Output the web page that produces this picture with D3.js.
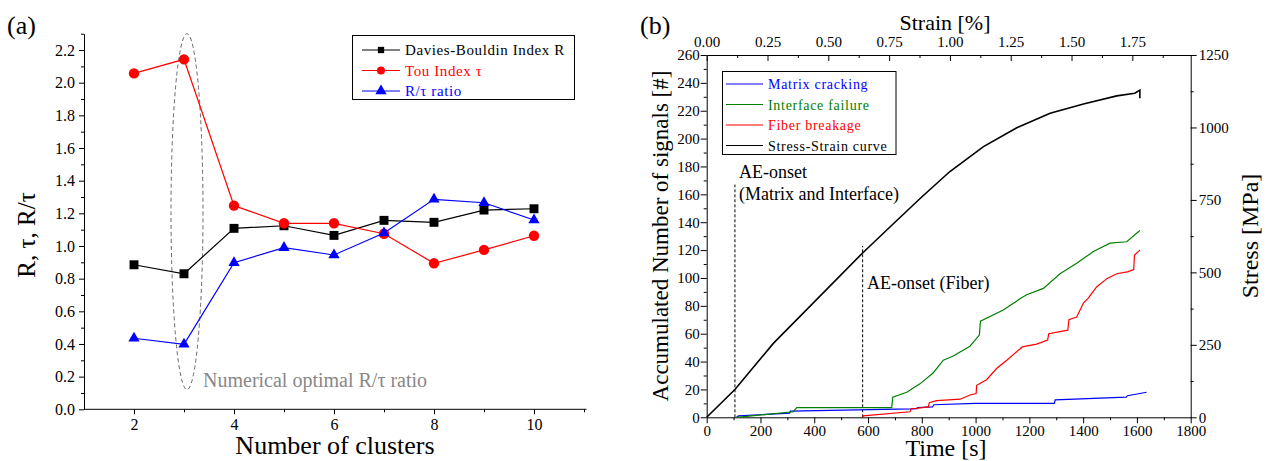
<html>
<head>
<script src="https://d3js.org/d3.v7.min.js"></script>
<style>
  body { margin: 0; background: #fff; }
  svg text { font-family: "Liberation Serif", "Times New Roman", serif; }
  .axis .domain, .axis line { stroke: #000; }
</style>
</head>
<body>
<svg id="all" width="1274" height="461"></svg>
<script>
// ---------- data: panel (a) ----------
const clusters = [2, 3, 4, 5, 6, 7, 8, 9, 10];
const daviesR = [0.885, 0.83, 1.108, 1.124, 1.065, 1.157, 1.145, 1.22, 1.228];
const touTau  = [2.057, 2.143, 1.247, 1.139, 1.139, 1.075, 0.894, 0.976, 1.063];
const ratio   = [0.435, 0.398, 0.898, 0.99, 0.945, 1.08, 1.286, 1.265, 1.159];
const aYTicks = [0, 0.2, 0.4, 0.6, 0.8, 1.0, 1.2, 1.4, 1.6, 1.8, 2.0, 2.2];
const aXTicks = [2, 4, 6, 8, 10];

// ---------- data: panel (b) ----------  [time s, accumulated count]
const matrixCracking = [[111,0],[118,1],[308,3],[311,4.5],[760,6],[782,6.2],[785,7],[840,7.5],[845,9],[1000,10],
  [1293,10],[1296,12.5],[1560,14.5],[1565,15.5],[1636,18]];
const interfaceFailure = [[111,0],[322,4],[335,7],[688,7],[692,14.5],[744,18],[793,24],[843,32],[880,41],[917,44],
  [979,51],[1014,59],[1018,69],[1103,77],[1165,85],[1190,88],[1252,92.5],[1314,103],[1376,110.5],[1438,119],
  [1500,125],[1562,126],[1611,134]];
const fiberBreakage = [[580,0],[582,1],[756,4],[760,6],[824,7.5],[828,10.5],[855,12],[943,13],[979,16],[1002,17],
  [1004,23],[1041,27],[1078,35],[1116,41],[1140,45],[1174,50.5],[1227,52.5],[1268,55.5],[1272,60],[1343,62.5],
  [1347,70],[1376,72],[1401,82],[1419,85.5],[1450,93.5],[1488,99.5],[1525,103],[1568,104.5],[1588,106],
  [1591,116.5],[1611,120]];
// [strain %, stress MPa]
const stressStrain = [[0,0],[0.116,96],[0.274,255],[0.641,567],[0.774,673],[0.884,760],[1.0,848],[1.138,934],
  [1.275,999],[1.412,1049],[1.549,1081],[1.686,1109],[1.76,1118],[1.781,1129],[1.781,1101]];
const onsets = [[105, 167], [580, 123]];
const bXTicks = [0, 200, 400, 600, 800, 1000, 1200, 1400, 1600, 1800];
const bYTicks = [0, 20, 40, 60, 80, 100, 120, 140, 160, 180, 200, 220, 240, 260];
const strainTicks = [0, 0.25, 0.5, 0.75, 1.0, 1.25, 1.5, 1.75];
const stressTicks = [0, 250, 500, 750, 1000, 1250];

const serif = '"Liberation Serif", "Times New Roman", serif';
const svg = d3.select("svg#all");
const tickFont = size => g => g.attr("font-family", serif)
  .selectAll("text").attr("font-family", serif).style("font-family", serif).style("font-size", size + "px");

// ================= panel (a) =================
const xA = d3.scaleLinear().domain([1, 11]).range([84, 584]);
const yA = d3.scaleLinear().domain([0, 2.3]).range([409.3, 33.7]);
const pa = svg.append("g").attr("id", "panelA");

const axA = pa.append("g").attr("class", "axis").attr("transform", "translate(0,409.3)")
  .call(d3.axisBottom(xA).tickValues(aXTicks).tickSize(5).tickSizeOuter(0).tickPadding(4).tickFormat(d3.format("d")))
  .call(tickFont(16));
axA.select(".domain").attr("d", "M84,0H586.5");
pa.append("g").attr("class", "axis").attr("transform", "translate(0,409.3)")
  .call(d3.axisBottom(xA).tickValues([3, 5, 7, 9, 11]).tickSize(3).tickSizeOuter(0).tickFormat(""))
  .call(g => g.select(".domain").remove());

pa.append("g").attr("class", "axis").attr("transform", "translate(84,0)")
  .call(d3.axisLeft(yA).tickValues(aYTicks).tickSize(5).tickSizeOuter(0).tickPadding(4).tickFormat(d3.format(".1f")))
  .call(tickFont(16));
pa.append("g").attr("class", "axis").attr("transform", "translate(84,0)")
  .call(d3.axisLeft(yA).tickValues(d3.range(0.1, 2.31, 0.2)).tickSize(3).tickSizeOuter(0).tickFormat(""))
  .call(g => g.select(".domain").remove());

// dashed ellipse around the optimum
pa.append("ellipse")
  .attr("cx", xA(3.06)).attr("cy", yA(1.21))
  .attr("rx", xA(3.38) - xA(3.06)).attr("ry", yA(0.12) - yA(1.21))
  .attr("fill", "none").attr("stroke", "#666").attr("stroke-dasharray", "4,3").attr("stroke-width", 1);
pa.append("text").attr("x", 203).attr("y", 387).attr("fill", "#888").style("font-size", "20px")
  .text("Numerical optimal R/\u03c4 ratio");

const seriesA = [
  {name: "Davies-Bouldin Index R", vals: daviesR, color: "#000", sym: d3.symbolSquare, size: 80, lsize: 40},
  {name: "Tou Index \u03c4", vals: touTau, color: "#ff0000", sym: d3.symbolCircle, size: 85, lsize: 50},
  {name: "R/\u03c4 ratio", vals: ratio, color: "#0000ff", sym: d3.symbolTriangle, size: 55, lsize: 55}
];
const lineA = d3.line().x(d => xA(d[0])).y(d => yA(d[1]));
seriesA.forEach(s => {
  const pts = clusters.map((c, i) => [c, s.vals[i]]);
  pa.append("path").attr("d", lineA(pts)).attr("fill", "none").attr("stroke", s.color).attr("stroke-width", 1.2);
  pa.selectAll(null).data(pts).join("path")
    .attr("transform", d => `translate(${xA(d[0])},${yA(d[1])})`)
    .attr("d", d3.symbol(s.sym, s.size)).attr("fill", s.color);
});

// legend (a)
const legA = pa.append("g");
legA.append("rect").attr("x", 352.5).attr("y", 35.5).attr("width", 222).attr("height", 64)
  .attr("fill", "#fff").attr("stroke", "#000").attr("stroke-width", 1);
seriesA.forEach((s, i) => {
  const y = 50 + i * 20.5;
  legA.append("line").attr("x1", 362).attr("x2", 400).attr("y1", y).attr("y2", y).attr("stroke", s.color).attr("stroke-width", 1.2);
  legA.append("path").attr("transform", `translate(381,${y})`).attr("d", d3.symbol(s.sym, s.lsize)).attr("fill", s.color);
  legA.append("text").attr("x", 405).attr("y", y + 5).attr("fill", s.color)
    .style("font-size", "15px").style("letter-spacing", "0.6px").text(s.name);
});

pa.append("text").attr("transform", "translate(35,235) rotate(-90)").attr("text-anchor", "middle")
  .style("font-size", "25px").text("R, \u03c4, R/\u03c4");
pa.append("text").attr("x", 335).attr("y", 454).attr("text-anchor", "middle")
  .style("font-size", "26px").text("Number of clusters");
pa.append("text").attr("x", 7).attr("y", 34).style("font-size", "26px").text("(a)");

// ================= panel (b) =================
const xB = d3.scaleLinear().domain([0, 1800]).range([706.7, 1190.7]);
const yB = d3.scaleLinear().domain([0, 260]).range([417.3, 55]);
const xS = d3.scaleLinear().domain([0, 1.99]).range([706.7, 1190.7]);
const yS = d3.scaleLinear().domain([0, 1250]).range([417.3, 55]);
const pb = svg.append("g").attr("id", "panelB");

function minorAxis(axisFn, scale, vals, size, tr) {
  pb.append("g").attr("class", "axis").attr("transform", tr)
    .call(axisFn(scale).tickValues(vals).tickSize(size).tickSizeOuter(0).tickFormat(""))
    .call(g => g.select(".domain").remove());
}

pb.append("g").attr("class", "axis").attr("transform", "translate(0,417.3)")
  .call(d3.axisBottom(xB).tickValues(bXTicks).tickSize(6).tickSizeOuter(0).tickPadding(2).tickFormat(d3.format("d")))
  .call(tickFont(15));
minorAxis(d3.axisBottom, xB, d3.range(100, 1800, 200), 3, "translate(0,417.3)");

pb.append("g").attr("class", "axis").attr("transform", "translate(706.7,0)")
  .call(d3.axisLeft(yB).tickValues(bYTicks).tickSize(6).tickSizeOuter(0).tickPadding(1).tickFormat(d3.format("d")))
  .call(tickFont(15));
minorAxis(d3.axisLeft, yB, d3.range(10, 260, 20), 3, "translate(706.7,0)");

pb.append("g").attr("class", "axis").attr("transform", "translate(0,55)")
  .call(d3.axisTop(xS).tickValues(strainTicks).tickSize(-6).tickSizeOuter(0).tickPadding(8).tickFormat(d3.format(".2f")))
  .call(tickFont(15));
minorAxis(d3.axisTop, xS, d3.range(0.125, 1.99, 0.25), -3, "translate(0,55)");

pb.append("g").attr("class", "axis").attr("transform", "translate(1190.7,0)")
  .call(d3.axisRight(yS).tickValues(stressTicks).tickSize(6).tickSizeOuter(0).tickPadding(2).tickFormat(d3.format("d")))
  .call(tickFont(15));
minorAxis(d3.axisRight, yS, d3.range(125, 1250, 250), 3, "translate(1190.7,0)");

// onset markers
onsets.forEach(o => {
  pb.append("line").attr("x1", xB(o[0])).attr("x2", xB(o[0])).attr("y1", yB(0)).attr("y2", yB(o[1]))
    .attr("stroke", "#000").attr("stroke-width", 1).attr("stroke-dasharray", "3,2");
});

const lineB = d3.line().x(d => xB(d[0])).y(d => yB(d[1]));
const lineS = d3.line().x(d => xS(d[0])).y(d => yS(d[1]));
const seriesB = [
  {name: "Matrix cracking", data: matrixCracking, color: "#0000ff", gen: lineB},
  {name: "Interface failure", data: interfaceFailure, color: "#008000", gen: lineB},
  {name: "Fiber breakage", data: fiberBreakage, color: "#ff0000", gen: lineB},
  {name: "Stress-Strain curve", data: stressStrain, color: "#000", gen: lineS}
];
seriesB.forEach(s => {
  pb.append("path").attr("d", s.gen(s.data)).attr("fill", "none").attr("stroke", s.color)
    .attr("stroke-width", s.color === "#000" ? 1.6 : 1.2);
});

// legend (b)
const legB = pb.append("g");
legB.append("rect").attr("x", 722.5).attr("y", 71.5).attr("width", 173.5).attr("height", 83)
  .attr("fill", "#fff").attr("stroke", "#000").attr("stroke-width", 1);
seriesB.forEach((s, i) => {
  const y = 84 + i * 20.5;
  legB.append("line").attr("x1", 726).attr("x2", 763).attr("y1", y).attr("y2", y).attr("stroke", s.color).attr("stroke-width", 1.2);
  legB.append("text").attr("x", 768).attr("y", y + 5).attr("fill", s.color)
    .style("font-size", "14px").style("letter-spacing", "0.7px").text(s.name);
});

pb.append("text").attr("x", 739).attr("y", 178).style("font-size", "18px").text("AE-onset");
pb.append("text").attr("x", 739).attr("y", 200).style("font-size", "18px").text("(Matrix and Interface)");
pb.append("text").attr("x", 867).attr("y", 289).style("font-size", "18px").text("AE-onset (Fiber)");

pb.append("text").attr("x", 945).attr("y", 30).attr("text-anchor", "middle").style("font-size", "22px").text("Strain [%]");
pb.append("text").attr("x", 946).attr("y", 456).attr("text-anchor", "middle").style("font-size", "24px").text("Time [s]");
pb.append("text").attr("transform", "translate(668,236) rotate(-90)").attr("text-anchor", "middle")
  .style("font-size", "23px").text("Accumulated Number of signals [#]");
pb.append("text").attr("transform", "translate(1258,236) rotate(-90)").attr("text-anchor", "middle")
  .style("font-size", "24px").text("Stress [MPa]");
pb.append("text").attr("x", 640).attr("y", 34).style("font-size", "26px").text("(b)");
</script>
</body>
</html>
